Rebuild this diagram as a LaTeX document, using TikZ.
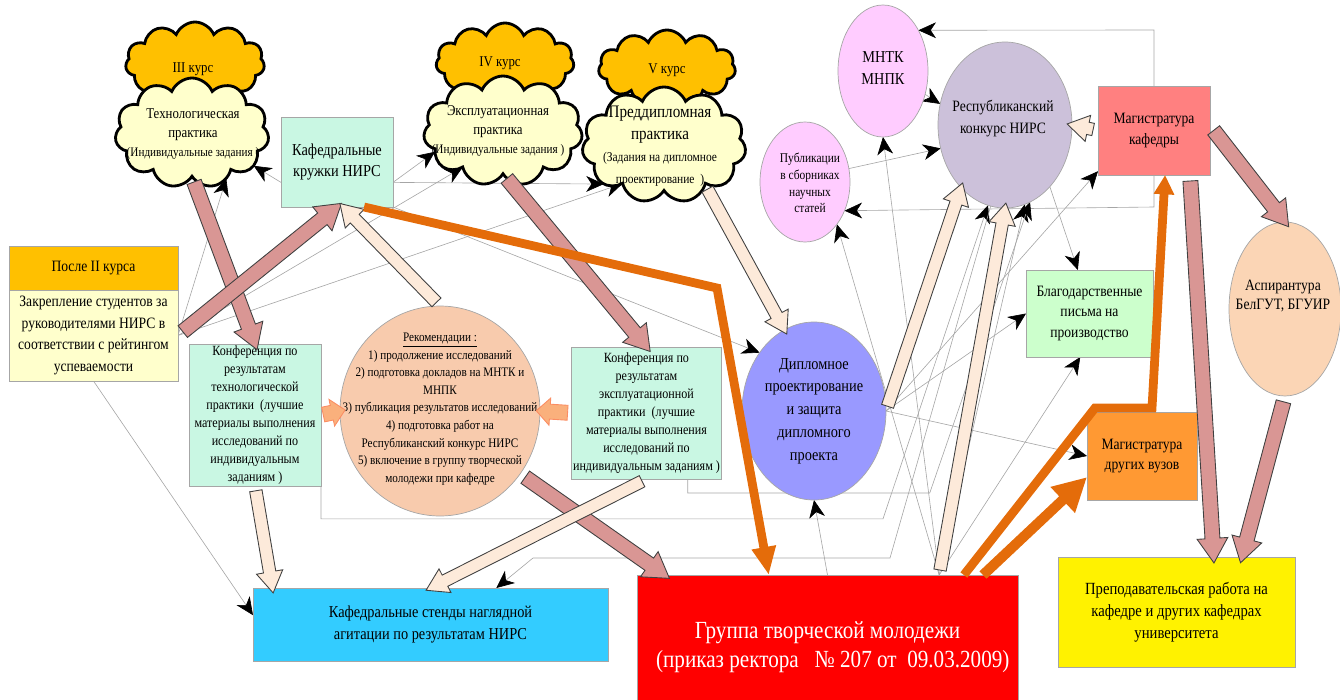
\documentclass[tikz,border=0pt]{standalone}
\usepackage{fontspec}
\setmainfont{Liberation Serif}[FakeStretch=0.86]
\usetikzlibrary{shapes.symbols,
    shapes.geometric,
    shapes.arrows,
    arrows.meta,
    positioning,
    calc}

\pgfdeclarelayer{background}
\pgfsetlayers{background,main}

\definecolor{ccourse}{HTML}{FFC000}
\definecolor{cpale}{HTML}{FFFFCC}
\definecolor{cmint}{HTML}{C9F7E3}
\definecolor{cpeach}{HTML}{F8CBAD}
\definecolor{cdipl}{HTML}{9999FF}
\definecolor{cpink}{HTML}{FFCCFF}
\definecolor{clav}{HTML}{CCC1DA}
\definecolor{cmagk}{HTML}{FF8080}
\definecolor{casp}{HTML}{FBD5B5}
\definecolor{cblag}{HTML}{CCFFCC}
\definecolor{cmagd}{HTML}{FF9933}
\definecolor{cblue}{HTML}{33CCFF}
\definecolor{crosy}{HTML}{D99694}
\definecolor{cpalearr}{HTML}{FDEADA}
\definecolor{corng}{HTML}{E46C0A}
\definecolor{csmall}{HTML}{FAB07C}

% block arrow from #2 to #3
\newcommand\fatarrow[3][]{%
  \path let \p1 = ($(#3)-(#2)$), \n1 = {atan2(\y1,\x1)}, \n2 = {veclen(\x1,\y1)} in
    ($(#2)!0.5!(#3)$) node[#1, rotate = \n1, minimum height = \n2] {};}

\begin{document}
\begin{tikzpicture} [x = 0.02cm, y = -0.02cm,
    sz/.style 2 args = {minimum width = #1*0.02cm, minimum height = #2*0.02cm},
    box/.style = {draw = gray!70, line width = 0.4pt, inner sep = 1pt, outer sep = 0pt, align = center},
    oval/.style = {ellipse, draw = gray!70, line width = 0.4pt, inner sep = 0pt, outer sep = 0pt},
    puff/.style = {cloud, cloud puffs = 11, cloud puff arc = 135, cloud ignores aspect,
        draw = black, line width = 1.6pt, inner sep = 0pt, outer sep = 0pt},
    lbl/.style = {align = center, inner sep = 0pt},
    ray/.style = {draw = gray!70, line width = 0.35pt,
        -{Stealth[length = 10pt, width = 9pt, inset = 3pt, color = black]}},
    fatline/.style = {draw = corng, line width = 5pt},
    rosy/.style = {single arrow, draw = black!75, fill = crosy, line width = 0.5pt,
        inner sep = 4pt, outer sep = 0pt, single arrow head extend = 4.5pt, single arrow tip angle = 64},
    pale/.style = {rosy, fill = cpalearr, inner sep = 3.3pt, single arrow head extend = 4pt},
    nudge/.style = {rosy, fill = csmall, draw = csmall!80!red, inner sep = 4pt,
        single arrow head extend = 3.5pt, single arrow tip angle = 90}]
\useasboundingbox (0,0) rectangle (1340,700);

% courses
\node[puff, fill = ccourse, sz = {139}{82}] (c3b) at (195,63) {};
\node[lbl, font = \fontsize{8.5}{10}\selectfont] (c3bt) at (193,69) {III курс};
\node[puff, fill = cpale, sz = {154}{110}] (c3f) at (192,133) {};
\node[lbl, font = \fontsize{8.5}{11}\selectfont] (c3ft) at (193,134)
    {Технологическая\\практика\\{\fontsize{7.4}{9}\selectfont(Индивидуальные задания )}};

\node[puff, fill = ccourse, sz = {138}{78}] (c4b) at (505,62) {};
\node[lbl, font = \fontsize{8.5}{10}\selectfont] (c4bt) at (500,63) {IV курс};
\node[puff, fill = cpale, sz = {159}{110}] (c4f) at (503,131) {};
\node[lbl, font = \fontsize{8.5}{11}\selectfont] (c4ft) at (498,131)
    {Эксплуатационная\\практика\\{\fontsize{7.4}{9}\selectfont(Индивидуальные задания )}};

\node[puff, fill = ccourse, sz = {137}{76}] (c5b) at (667,68) {};
\node[lbl, font = \fontsize{8.5}{10}\selectfont] (c5bt) at (667,70) {V курс};
\node[puff, fill = cpale, sz = {164}{116}] (c5f) at (664,145) {};
\node[lbl, font = \fontsize{10}{12.5}\selectfont] (c5ft) at (660,146)
    {Преддипломная\\практика\\{\fontsize{7.6}{11}\selectfont(Задания на дипломное}\\
     {\fontsize{7.6}{11}\selectfont проектирование \ )}};

% left column
\node[box, fill = cmint, sz = {112}{90}, font = \fontsize{9.5}{11.5}\selectfont] (kruzhki) at (337,162)
    {Кафедральные\\кружки НИРС};
\node[box, fill = ccourse, sz = {169}{44}, font = \fontsize{9}{11}\selectfont] (posle) at (93.5,268)
    {После II курса};
\node[box, fill = cpale, sz = {169}{91}, font = \fontsize{9}{12.2}\selectfont, below = 0pt of posle] (zakr)
    {Закрепление студентов за\\руководителями НИРС в\\соответствии с рейтингом\\успеваемости};
\node[box, fill = cmint, sz = {132}{138}, font = \fontsize{8}{10.2}\selectfont] (konf1) at (255,415)
    {Конференция по\\результатам\\технологической\\практики~~(лучшие\\материалы выполнения\\исследований по\\индивидуальным\\заданиям )};
\node[oval, fill = cpeach, sz = {200}{210}] (rek) at (440,411) {};
\node[lbl, font = \fontsize{7.4}{10}\selectfont] (rekt) at (440,409)
    {\underline{Рекомендации :}\\1) продолжение исследований\\2) подготовка докладов на МНТК и\\МНПК\\
     3) публикация результатов исследований\\4) подготовка работ на\\Республиканский конкурс НИРС\\
     5) включение в группу творческой\\молодежи при кафедре};
\node[box, fill = cmint, sz = {143}{132}, font = \fontsize{8}{10.2}\selectfont] (konf2) at (646.5,413)
    {Конференция по\\результатам\\эксплуатационной\\практики~~(лучшие\\материалы выполнения\\исследований по\\индивидуальным заданиям~)};
\node[box, fill = cblue, sz = {355}{73}, font = \fontsize{9.5}{12}\selectfont] (stendy) at (430.5,624.5)
    {Кафедральные стенды наглядной\\агитации по результатам НИРС};

% right part
\node[oval, fill = cdipl, sz = {144}{178}] (dipl) at (814,411) {};
\node[lbl, font = \fontsize{9.5}{13}\selectfont] (diplt) at (814,411)
    {Дипломное\\проектирование\\и защита\\дипломного\\проекта};
\node[oval, fill = cpink, sz = {90}{132}] (mntk) at (883,71) {};
\node[lbl, font = \fontsize{9.5}{12}\selectfont] (mntkt) at (883,68) {МНТК\\МНПК};
\node[oval, fill = cpink, sz = {90}{120}] (publ) at (805,182) {};
\node[lbl, font = \fontsize{7.6}{9.5}\selectfont] (publt) at (810,183)
    {Публикации\\в сборниках\\научных\\статей};
\node[oval, fill = clav, sz = {134}{166}] (resp) at (1005,125) {};
\node[lbl, font = \fontsize{9}{12.5}\selectfont] (respt) at (1003,119) {Республиканский\\конкурс НИРС};
\node[box, fill = cmagk, sz = {112}{89}, font = \fontsize{9}{12.5}\selectfont] (magk) at (1154,130.5)
    {Магистратура\\кафедры};
\node[oval, fill = casp, sz = {112}{174}] (asp) at (1285,309) {};
\node[lbl, font = \fontsize{9}{11}\selectfont] (aspt) at (1283,296) {Аспирантура\\БелГУТ, БГУИР};
\node[box, fill = cblag, sz = {127}{87}, font = \fontsize{9}{11.5}\selectfont] (blag) at (1089.5,313.5)
    {Благодарственные\\письма на\\производство};
\node[box, fill = cmagd, sz = {110}{88}, font = \fontsize{9}{11}\selectfont] (magd) at (1142,456)
    {Магистратура\\других вузов};
\node[box, fill = yellow, sz = {237}{110}, font = \fontsize{9.7}{12.5}\selectfont] (prep) at (1176.5,612)
    {Преподавательская работа на\\кафедре и других кафедрах\\университета};
\node[box, fill = red, text = white, sz = {381}{145}, font = \fontsize{14}{16.5}\selectfont] (grupa) at (827.5,647.5)
    {Группа творческой молодежи\\\ \ (приказ ректора \ \ № 207 от \ 09.03.2009)};

\coordinate (ob) at (717,288);
\coordinate (oc1) at (1095,408);
\coordinate (oc2) at (1152,408);
\coordinate (sb) at (890,558);

% thin links
\begin{pgfonlayer}{background}
\draw[ray] (zakr.east) -- (c3f.-53);
\draw[ray] (zakr.east) -- (c4f.222);
\draw[ray] (zakr.east) -- (c5f.223);
\draw[ray] (zakr.south) -- (stendy.177);
\draw[ray] (kruzhki.200) -- (c3f.-28);
\draw[ray] (kruzhki.-20) -- (c4f.197);
\draw[ray] (kruzhki.-20) -- (c5f.213);
\draw[ray] (kruzhki.south east) -- (dipl.133);
\draw[ray] (publ.17) -- (resp.200);
\draw[ray] (mntk.-29) -- (resp.162);
\draw[ray] (magk.north) -- ++(0,-56) -- (mntk.49);
\draw[ray] (magk.south) -- ++(0,32) -- (publ.-36);
\draw[ray] (resp.-54) -- (blag.105);
\draw[ray] (dipl.east) -- (magd.west);
\draw[ray] (dipl.east) -- (blag.west);
\draw[ray] (dipl.east) -- (magk.216);
\draw[ray] (grupa.33) -- (publ.-53);
\draw[ray] (grupa.33) -- (mntk.south);
\draw[ray] (grupa.33) -- (resp.-76);
\draw[ray] (grupa.33) -- (blag.-102);
\draw[ray] (grupa.north) -- (dipl.south);
\draw[ray] (konf1.south east) -- ++(0,33) -- ++(562,0) -- (resp.-102);
\draw[ray] (konf2.-58) -- ++(0,14) -- ++(242,0) -- (resp.-72);
\draw[ray] (resp.-100) -- (sb) -- ++(-357,0) -- (stendy.29);
\end{pgfonlayer}

% block arrows
\fatarrow[rosy]{c3f.south}{konf1.north}
\fatarrow[rosy]{zakr.east}{kruzhki.south}
\fatarrow[rosy]{c4f.south}{konf2.north}
\fatarrow[rosy]{rek.-38}{grupa.156}
\fatarrow[rosy]{magk.-51}{prep.56}
\fatarrow[rosy]{magk.5}{asp.north}
\fatarrow[rosy]{asp.south}{prep.40}
\fatarrow[pale]{rek.north}{kruzhki.-82}
\fatarrow[pale]{c5f.-44}{dipl.110}
\fatarrow[pale]{konf1.south}{stendy.167}
\fatarrow[pale]{konf2.south}{stendy.north}
\fatarrow[pale]{dipl.east}{resp.235}
\fatarrow[pale]{grupa.33}{resp.south}
\fatarrow[pale]{magk.west}{resp.east}
\fatarrow[nudge]{konf1.east}{rek.west}
\fatarrow[nudge]{konf2.west}{rek.east}

\draw[fatline, -{Triangle[length = 16pt, width = 13pt]}] (kruzhki.-59) -- (ob) -- (grupa.129);
\draw[fatline, -{Triangle[length = 11pt, width = 11pt]}] (grupa.28) -- (oc1) -- (oc2) -- (magk.-76);
\draw[fatline, line width = 5.8pt, -{Triangle[length = 19pt, width = 19pt]}] (grupa.25) -- (magd.201);
\end{tikzpicture}
\end{document}
